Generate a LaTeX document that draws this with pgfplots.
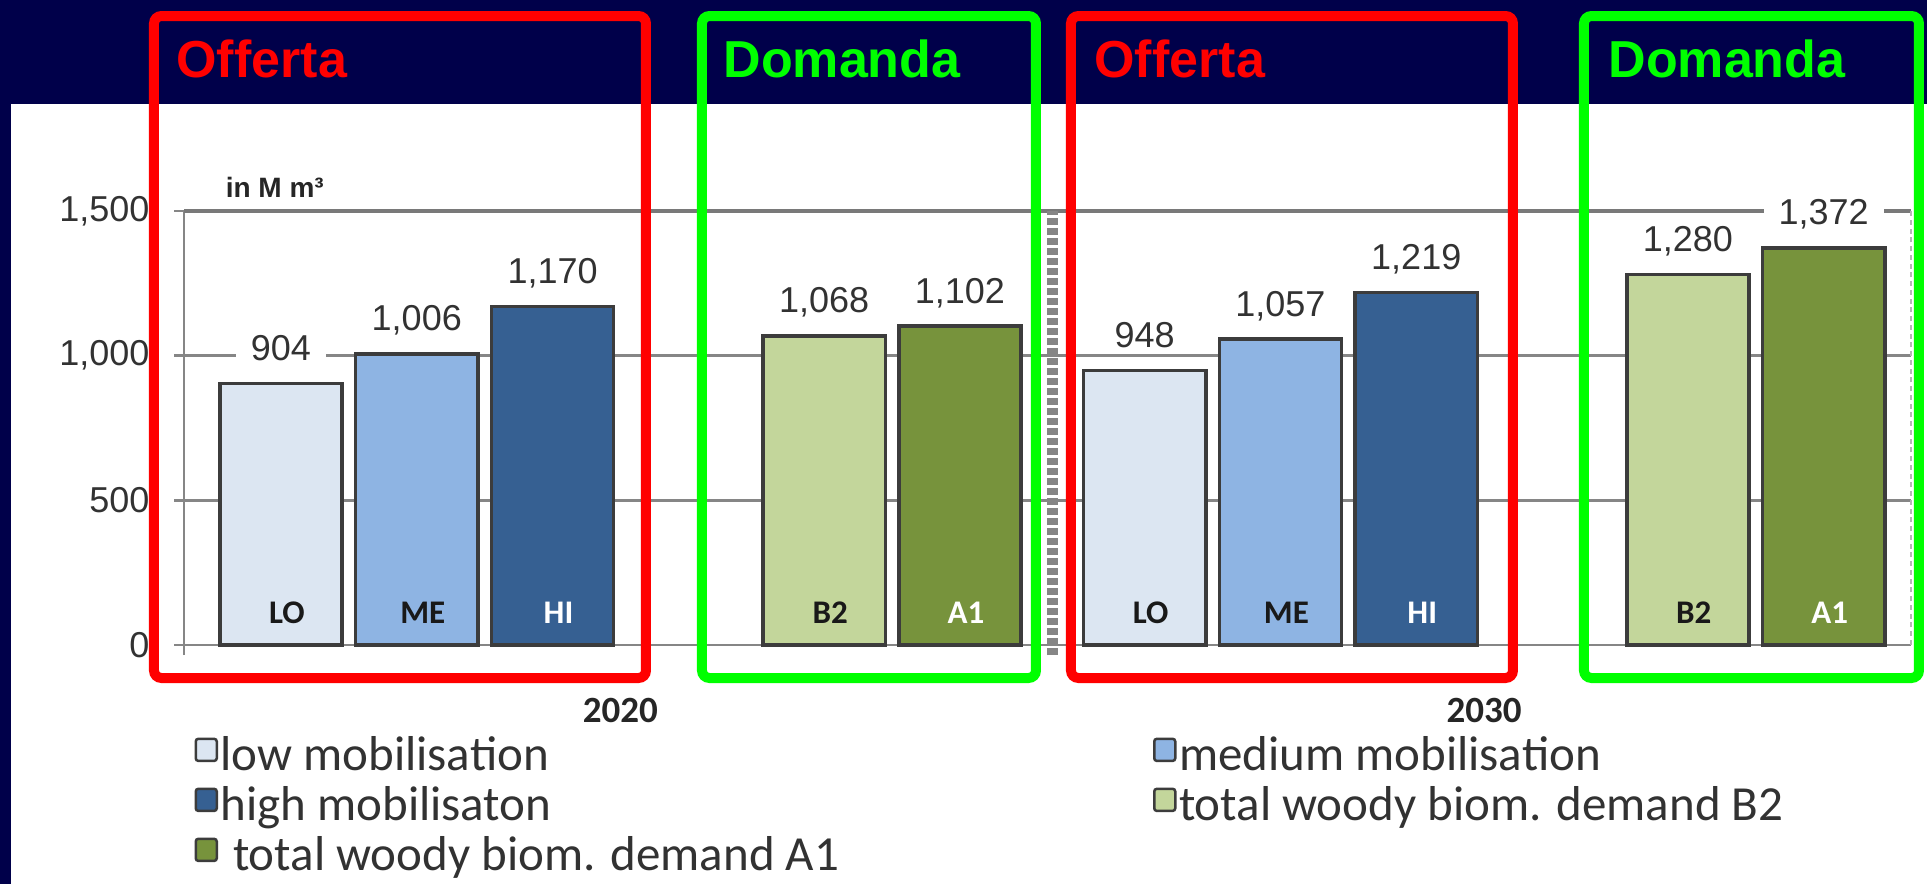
\documentclass[border=0pt]{standalone}
\usepackage{pgfplots}
\pgfplotsset{compat=1.18}
\usepackage{fontspec}
\setmainfont{Liberation Sans}
\newfontfamily\calibri{Carlito}
\definecolor{navy}{RGB}{0,0,74}
\definecolor{cLO}{RGB}{220,230,242}
\definecolor{cME}{RGB}{142,180,227}
\definecolor{cHI}{RGB}{54,96,146}
\definecolor{cB2}{RGB}{195,214,155}
\definecolor{cA1}{RGB}{119,147,60}
\definecolor{barline}{RGB}{60,60,60}
\definecolor{gridc}{RGB}{134,134,134}
\definecolor{txt}{RGB}{50,50,50}
\definecolor{boxred}{RGB}{255,0,0}
\definecolor{boxgreen}{RGB}{0,255,0}

\pgfplotsset{
  mybar/.style={ybar, bar width=0.9, bar shift=0pt, draw=barline, line width=1.4pt,
    legend image code/.code={\draw[##1, draw=barline, line width=1pt, rounded corners=1pt] (0pt,-0.6pt) rectangle (8.4pt,8.2pt);},
    nodes near coords,
    every node near coord/.append style={anchor=base, yshift=9.2pt, fill=white, inner xsep=6pt, inner ysep=1.5pt,
      font=\fontsize{14.4}{16}\selectfont, text=txt}},
}

\begin{document}
\begin{tikzpicture}
\useasboundingbox (0,0) rectangle (770.8pt,-353.6pt);
\begin{scope}[x=0.4pt,y=-0.4pt]
\fill[navy] (0,0) rectangle (1927,884);
\fill[white] (11,104) rectangle (1927,884);
\end{scope}
\begin{axis}[
  at={(73.6pt,-262.04pt)}, anchor=south west,
  x=54.32pt, y=0.115733pt,
  xmin=-0.714, xmax=12.0, ymin=-35, ymax=1500,
  enlargelimits=false, clip=false,
  axis x line=none, axis y line=left,
  axis line style={draw=gridc, line width=1.1pt, -},
  ytick={0,500,1000,1500},
  tick align=outside, major tick length=4pt,
  ytick style={draw=gridc, line width=1.1pt},
  ymajorgrids, major grid style={draw=gridc, line width=1.1pt},
  extra y ticks={1500}, extra y tick labels={},
  extra y tick style={major grid style={draw=gridc!90!black, line width=1.9pt}, tick style={line width=1.9pt}},
  /pgf/number format/.cd, 1000 sep={,}, assume math mode=true, /pgfplots/.cd,
  yticklabel style={font=\fontsize{14.4}{16}\selectfont, text=txt, anchor=east, inner sep=0pt, xshift=-9.6pt},
  legend columns=2,
  legend cell align=left,
  legend style={at={(axis description cs:0,0)}, anchor=north west, xshift=4pt, yshift=-32.5pt,
    draw=none, fill=none, inner sep=0pt, row sep=2pt, column sep=0pt,
    font=\calibri\fontsize{19.6}{23}\selectfont, text=txt,
    cells={anchor=west},
    nodes={inner xsep=1pt, inner ysep=0pt, text height=13.4pt, text depth=4.6pt}},
]
\addplot[mybar, fill=cLO] coordinates {(0,904) (6.36,948)};
\addlegendentry{\makebox[372pt][l]{low mobilisation}}
\addplot[mybar, fill=cME] coordinates {(1,1006) (7.36,1057)};
\addlegendentry{medium mobilisation}
\addplot[mybar, fill=cHI] coordinates {(2,1170) (8.36,1219)};
\addlegendentry{\makebox[372pt][l]{high mobilisaton}}
\addplot[mybar, fill=cB2] coordinates {(4,1068) (10.36,1280)};
\addlegendentry{total woody biom. demand B2}
\addplot[mybar, fill=cA1] coordinates {(5,1102) (11.36,1372)};
\addlegendentry{\makebox[372pt][l]{\hspace{5pt}total woody biom. demand A1}}

% separator and right border
\draw[gridc, line width=4.2pt, dash pattern=on 2.8pt off 1.2pt] (axis cs:5.68,-35) -- (axis cs:5.68,1500);
\draw[gridc!60, line width=0.8pt, dash pattern=on 2pt off 1.5pt] (axis cs:12,0) -- (axis cs:12,1500);

% labels inside bars
\begin{scope}[every node/.style={anchor=base, yshift=8.5pt, inner sep=0pt, font=\calibri\bfseries\fontsize{13.2}{15}\selectfont}]
\node[text=black!90] at (axis cs:0.044,0) {LO};
\node[text=black!90] at (axis cs:1.044,0) {ME};
\node[text=white] at (axis cs:2.044,0) {HI};
\node[text=black!90] at (axis cs:4.044,0) {B2};
\node[text=white] at (axis cs:5.044,0) {A1};
\node[text=black!90] at (axis cs:6.404,0) {LO};
\node[text=black!90] at (axis cs:7.404,0) {ME};
\node[text=white] at (axis cs:8.404,0) {HI};
\node[text=black!90] at (axis cs:10.404,0) {B2};
\node[text=white] at (axis cs:11.404,0) {A1};
\end{scope}

\node[font=\calibri\bfseries\fontsize{14.8}{16}\selectfont, text=black!85] at (axis cs:2.5,-225) {2020};
\node[font=\calibri\bfseries\fontsize{14.8}{16}\selectfont, text=black!85] at (axis cs:8.86,-225) {2030};
\node[anchor=west, inner sep=0pt, font=\bfseries\fontsize{11.2}{13}\selectfont, text=black!85] at (axis cs:-0.41,1580) {in M m³};
\end{axis}

\begin{scope}[x=0.4pt,y=-0.4pt]
\draw[boxred, line width=4pt, rounded corners=3pt] (154,16) rectangle (646,678);
\draw[boxgreen, line width=4pt, rounded corners=3pt] (702,16) rectangle (1036,678);
\draw[boxred, line width=4pt, rounded corners=3pt] (1071,16) rectangle (1513,678);
\draw[boxgreen, line width=4pt, rounded corners=3pt] (1584,16) rectangle (1919,678);
\begin{scope}[every node/.style={anchor=base west, inner sep=0pt, font=\bfseries\fontsize{20.8}{24}\selectfont}]
\node[text=boxred] at (176,77) {Offerta};
\node[text=boxgreen] at (723,77) {Domanda};
\node[text=boxred] at (1094,77) {Offerta};
\node[text=boxgreen] at (1608,77) {Domanda};
\end{scope}
\end{scope}
\end{tikzpicture}
\end{document}
